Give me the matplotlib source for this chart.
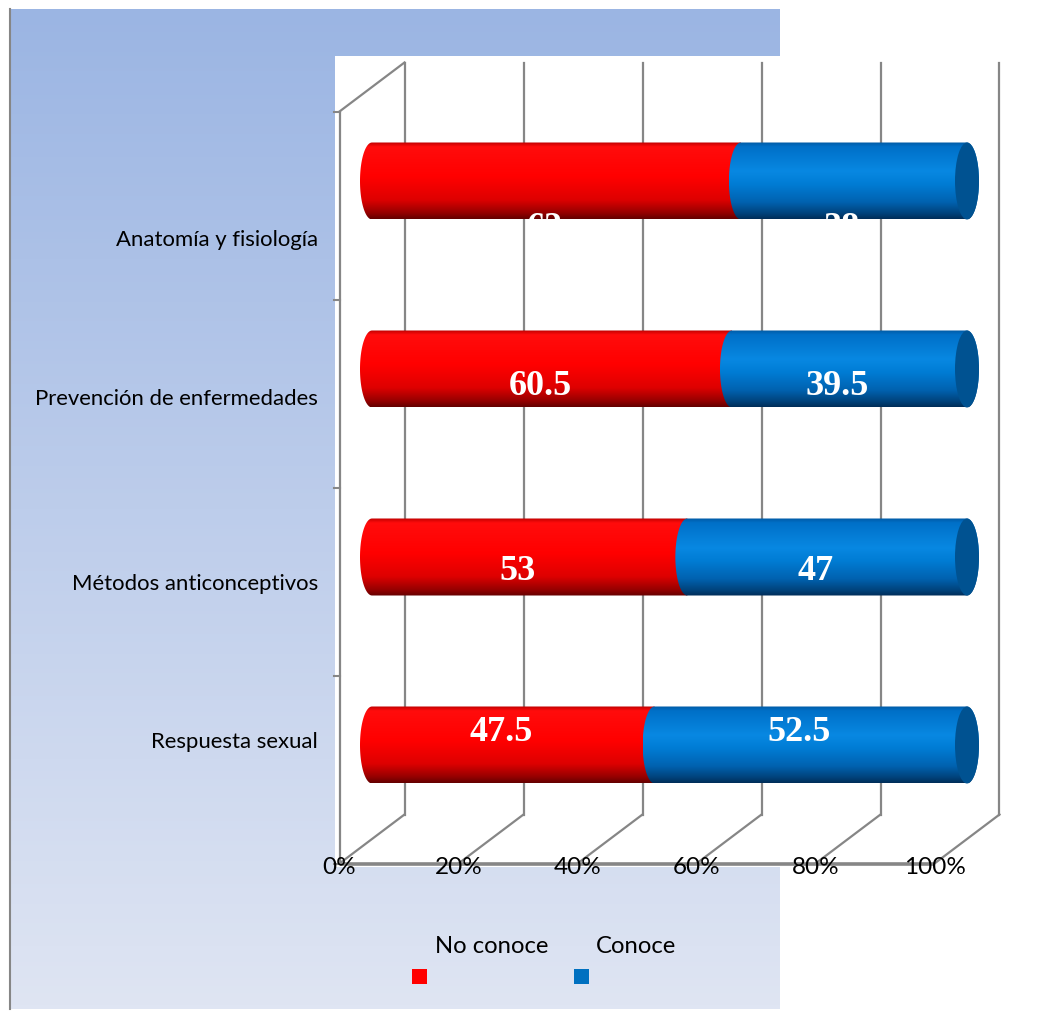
import numpy as np
import matplotlib
matplotlib.use("Agg")
import matplotlib.pyplot as plt
from matplotlib.patches import Rectangle, Ellipse, PathPatch
from matplotlib.path import Path
from matplotlib.lines import Line2D

# ----------------------
# data
# ----------------------
categories = ["Anatomía y fisiología", "Prevención de enfermedades",
              "Métodos anticonceptivos", "Respuesta sexual"]
no_conoce = [62, 60.5, 53, 47.5]
conoce = [38, 39.5, 47, 52.5]
series_names = ["No conoce", "Conoce"]
tick_values = [0, 20, 40, 60, 80, 100]
tick_labels = ["0%", "20%", "40%", "60%", "80%", "100%"]

# ----------------------
# figure / layout (pixels)
# ----------------------
W, H, DPI = 1056, 1012, 100
fig = plt.figure(figsize=(W / DPI, H / DPI), dpi=DPI)
fig.patch.set_facecolor("white")

GRID = "#868686"
SANS = "Lato"

# gradient panel behind everything
bg = fig.add_axes([10 / W, 1 - 1010 / H, 770 / W, 1000 / H], zorder=0)
top_c = np.array([155, 181, 227]) / 255
bot_c = np.array([223, 229, 243]) / 255
t = np.linspace(0, 1, 256)[:, None, None]
bg.imshow(top_c + (bot_c - top_c) * t, extent=(0, 1, 0, 1), aspect="auto", origin="upper")
bg.axis("off")
fig.add_artist(Line2D([10 / W, 10 / W], [1 - 1010 / H, 1 - 10 / H], color=GRID, lw=1.5, zorder=1))

# white plot area
fig.add_artist(Rectangle((335 / W, 1 - 868 / H), (W - 335) / W, (868 - 57) / H,
                         transform=fig.transFigure, facecolor="white", edgecolor="none", zorder=1))

# depth offsets (half depth) in data units
DXd = 32.5 / 595 * 100
DYd = 24.5 / 188

# main axes: mid-depth plane of the fake 3D box (x padded by half depth on both sides)
ax = fig.add_axes([339.5 / W, 1 - 840 / H, 660 / W, 752 / H], zorder=2)
ax.axis("off")
xmin, xmax, ytop, ybot = 0, 100, -0.5, 3.5

# back wall gridlines + floor diagonals
for x in tick_values:
    ax.plot([x + DXd, x + DXd], [ytop - DYd, ybot - DYd], color=GRID, lw=1.6, clip_on=False, zorder=1)
    ax.plot([x + DXd, x - DXd], [ybot - DYd, ybot + DYd], color=GRID, lw=1.6, clip_on=False, zorder=1)
# front floor edge
ax.plot([xmin - DXd, xmax - DXd], [ybot + DYd, ybot + DYd], color=GRID, lw=2.6, clip_on=False,
        zorder=1, solid_capstyle="butt")
# left wall
ax.plot([xmin - DXd, xmin - DXd], [ytop + DYd, ybot + DYd], color=GRID, lw=1.6, clip_on=False, zorder=1)
ax.plot([xmin - DXd, xmin + DXd], [ytop + DYd, ytop - DYd], color=GRID, lw=1.6, clip_on=False, zorder=1)
for k in range(len(categories) + 1):
    yk = ytop + k + DYd
    ax.plot([xmin - DXd - 1.0, xmin - DXd], [yk, yk], color=GRID, lw=1.5, clip_on=False, zorder=1)


# ----------------------
# cylinder bars
# ----------------------
def shade(stops):
    pos = [s[0] for s in stops]
    tt = np.linspace(0, 1, 200)
    cols = np.stack([np.interp(tt, pos, [s[1][i] for s in stops]) for i in range(3)], axis=-1)
    return (cols / 255)[:, None, :]


red_img = shade([(0, (190, 0, 0)), (0.06, (255, 12, 12)), (0.45, (255, 0, 0)),
                 (0.75, (222, 0, 0)), (0.92, (150, 0, 0)), (1, (100, 0, 0))])
blue_img = shade([(0, (0, 90, 165)), (0.06, (0, 112, 200)), (0.38, (8, 136, 226)),
                  (0.55, (0, 124, 212)), (0.78, (0, 98, 176)), (0.93, (0, 66, 122)), (1, (0, 45, 88))])
cap_color = (0 / 255, 82 / 255, 145 / 255)

bw = 12 / 595 * 100      # ellipse half width (data)
bh = 38.5 / 188          # bar half height (data)


def segment(a, b, c, img, right_cap):
    th = np.linspace(np.pi / 2, 3 * np.pi / 2, 60)
    verts = list(zip(a + bw * np.cos(th), c - bh * np.sin(th)))
    if right_cap:
        th2 = np.linspace(3 * np.pi / 2, 5 * np.pi / 2, 60)
        verts += list(zip(b + bw * np.cos(th2), c - bh * np.sin(th2)))
    else:
        verts += [(b, c + bh), (b, c - bh)]
    verts.append(verts[0])
    clip = PathPatch(Path(verts), transform=ax.transData, facecolor="none", edgecolor="none")
    im = ax.imshow(img, extent=(a - bw, b + bw, c + bh, c - bh), origin="upper",
                   aspect="auto", interpolation="bilinear", zorder=3)
    im.set_clip_path(clip)


label_off = [55, 25, 22, -5]      # baseline offset of value labels (px, downwards)
cat_off = [39.5, 10.5, 7.5, -22.5]

for i, (r, bl) in enumerate(zip(no_conoce, conoce)):
    segment(0, r, i, red_img, False)
    segment(r, r + bl, i, blue_img, True)
    ax.add_patch(Ellipse((r + bl, i), 2 * bw, 2 * bh, facecolor=cap_color, edgecolor="none", zorder=4))
    for start, val in [(0, r), (r, bl)]:
        ax.annotate(f"{val:g}", xy=(start + val / 2, i), xytext=(-12, -label_off[i]),
                    textcoords="offset pixels", ha="center", va="baseline", color="white",
                    fontsize=26, fontweight="bold", fontfamily="Liberation Serif",
                    zorder=5, annotation_clip=False)
    ax.annotate(categories[i], xy=(xmin - DXd, i + DYd), xytext=(-21.5, -cat_off[i]),
                textcoords="offset pixels", ha="right", va="baseline", fontsize=15.9,
                fontfamily=SANS, color="black", annotation_clip=False)

for x, lab in zip(tick_values, tick_labels):
    ax.annotate(lab, xy=(x - DXd, ybot + DYd), xytext=(0, -3), textcoords="offset pixels",
                ha="center", va="center", fontsize=17.5, fontfamily=SANS, color="black",
                annotation_clip=False, zorder=6)

ax.set_xlim(xmin - DXd, xmax + DXd)
ax.set_ylim(ybot, ytop)

# ----------------------
# legend
# ----------------------
for name, col, sq_x, txt_x in [(series_names[0], "#ff0000", 412, 435),
                               (series_names[1], "#0070c0", 574, 596)]:
    fig.add_artist(Rectangle((sq_x / W, 1 - 985 / H), 15 / W, 15 / H, transform=fig.transFigure,
                             facecolor=col, edgecolor="none", zorder=3))
    fig.text(txt_x / W, 1 - 953 / H, name, fontsize=17.2, fontfamily=SANS, va="baseline",
             ha="left", zorder=3)

fig.savefig("out.png", dpi=DPI)
